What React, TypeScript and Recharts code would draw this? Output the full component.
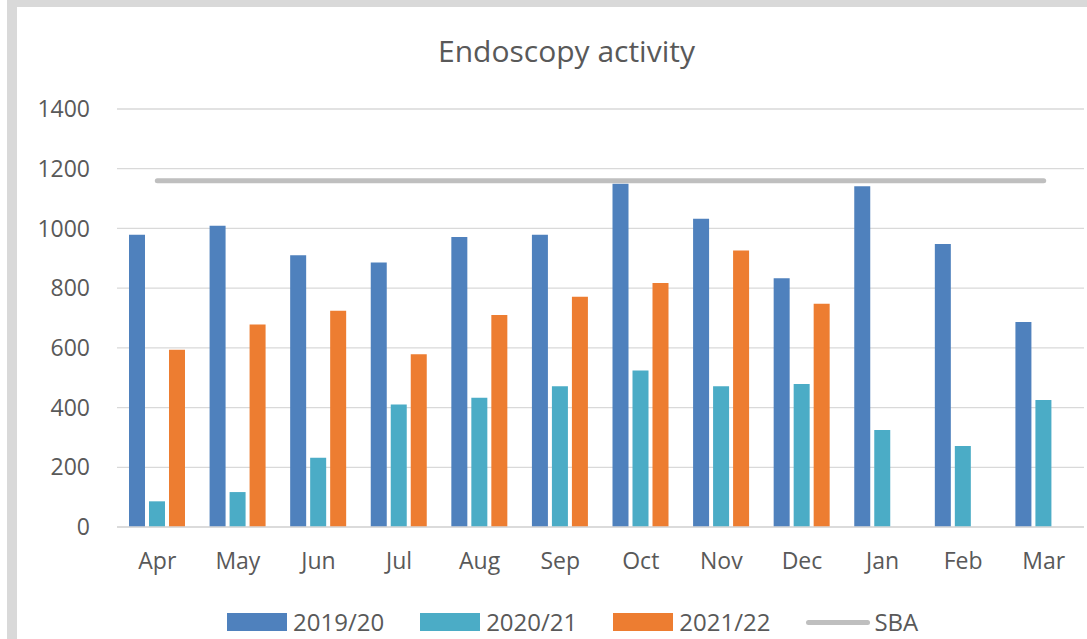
import { Bar, CartesianGrid, ComposedChart, Legend, Line, XAxis, YAxis } from "recharts";

const months = ["Apr", "May", "Jun", "Jul", "Aug", "Sep", "Oct", "Nov", "Dec", "Jan", "Feb", "Mar"];
const y2019 = [979, 1009, 910, 886, 971, 979, 1150, 1032, 833, 1141, 948, 687];
const y2020 = [86, 117, 232, 410, 433, 471, 524, 471, 479, 325, 271, 425];
const y2021 = [594, 678, 724, 579, 710, 771, 817, 926, 748, null, null, null];
const sba = [1160, 1160, 1160, 1160, 1160, 1160, 1160, 1160, 1160, 1160, 1160, 1160];
const yTicks = [0, 200, 400, 600, 800, 1000, 1200, 1400];

const COLORS = {
  y2019: "#4F81BD",
  y2020: "#4BACC6",
  y2021: "#ED7D31",
  sba: "#BFBFBF",
  grid: "#D9D9D9",
  text: "#595959",
};

const FONT = "'Open Sans', sans-serif";

const data = months.map((m, i) => ({
  month: m,
  y2019: y2019[i],
  y2020: y2020[i],
  y2021: y2021[i],
  sba: sba[i],
}));

const legendItems = [
  { label: "2019/20", color: COLORS.y2019, kind: "bar" },
  { label: "2020/21", color: COLORS.y2020, kind: "bar" },
  { label: "2021/22", color: COLORS.y2021, kind: "bar" },
  { label: "SBA", color: COLORS.sba, kind: "line" },
];

function ChartLegend() {
  return (
    <div
      style={{
        display: "flex",
        alignItems: "center",
        gap: 36,
        paddingLeft: 227,
        height: 28,
        lineHeight: "28px",
        fontFamily: FONT,
        fontSize: 24,
        color: COLORS.text,
      }}
    >
      {legendItems.map((item) => (
        <div key={item.label} style={{ display: "flex", alignItems: "center", gap: item.kind === "line" ? 4 : 6 }}>
          {item.kind === "bar" ? (
            <div style={{ width: 60, height: 18, background: item.color }} />
          ) : (
            <div style={{ width: 64, height: 5, borderRadius: 3, background: item.color }} />
          )}
          <span>{item.label}</span>
        </div>
      ))}
    </div>
  );
}

export default function App() {
  return (
    <div style={{ position: "absolute", left: 0, top: 0, width: 1087, height: 639, background: "#fff", overflow: "hidden" }}>
      <div style={{ position: "absolute", left: 7, top: 0, width: 1080, height: 7, background: "#D9D9D9" }} />
      <div style={{ position: "absolute", left: 7, top: 0, width: 10, height: 639, background: "#D9D9D9" }} />
      <div
        style={{
          position: "absolute",
          left: 0,
          top: 30,
          width: 1133,
          textAlign: "center",
          fontFamily: FONT,
          fontSize: 30,
          color: COLORS.text,
        }}
      >
        Endoscopy activity
      </div>
      <div style={{ position: "absolute", left: 0, top: 0 }}>
        <ComposedChart
          width={1087}
          height={639}
          data={data}
          margin={{ top: 109, right: 3, left: 0, bottom: 82 }}
          barCategoryGap={12}
          barGap={4}
        >
          <CartesianGrid vertical={false} stroke={COLORS.grid} strokeWidth={1.3} />
          <XAxis
            dataKey="month"
            height={30}
            axisLine={{ stroke: COLORS.grid, strokeWidth: 1.3 }}
            tickLine={false}
            tickMargin={20}
            tick={{ fill: COLORS.text, fontSize: 23, fontFamily: FONT }}
          />
          <YAxis
            width={117}
            domain={[0, 1400]}
            ticks={yTicks}
            axisLine={false}
            tickLine={false}
            tickMargin={21}
            tick={{ fill: COLORS.text, fontSize: 23, fontFamily: FONT }}
          />
          <Legend
            layout="horizontal"
            verticalAlign="middle"
            align="center"
            content={<ChartLegend />}
            wrapperStyle={{ top: 608, left: 0, width: 1087 }}
          />
          <Bar dataKey="y2019" name="2019/20" fill={COLORS.y2019} isAnimationActive={false} />
          <Bar dataKey="y2020" name="2020/21" fill={COLORS.y2020} isAnimationActive={false} />
          <Bar dataKey="y2021" name="2021/22" fill={COLORS.y2021} isAnimationActive={false} />
          <Line
            type="linear"
            dataKey="sba"
            name="SBA"
            stroke={COLORS.sba}
            strokeWidth={5}
            strokeLinecap="round"
            dot={false}
            activeDot={false}
            isAnimationActive={false}
          />
        </ComposedChart>
      </div>
    </div>
  );
}
